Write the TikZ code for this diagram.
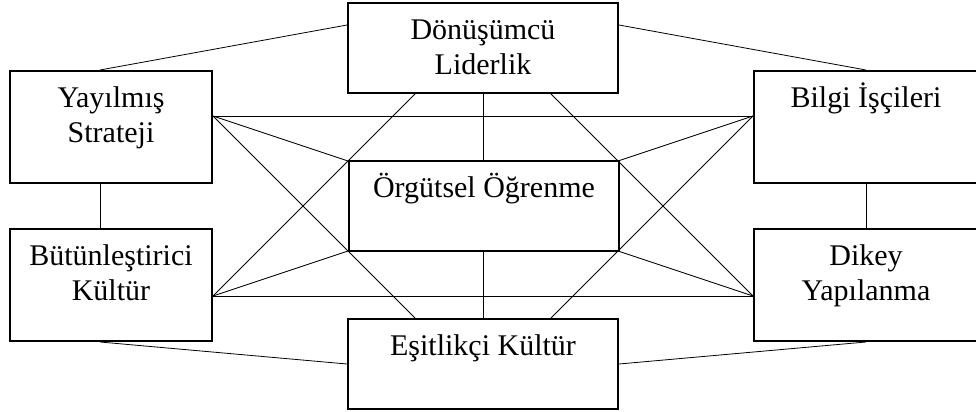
\documentclass[tikz,border=0pt]{standalone}
\usepackage{fontspec}
\setmainfont{Liberation Serif}
\usetikzlibrary{calc,backgrounds}

\begin{document}
\begin{tikzpicture}[x=0.5pt,y=-0.5pt,
        box/.style={draw,fill=white,line width=1pt,inner sep=0pt},
        txt/.style={font=\fontsize{15}{17.5}\selectfont,align=center,inner sep=0pt,anchor=north,yshift=-6.25pt},
        link/.style={line width=0.95pt}]
        \clip (0,0) rectangle (976,412);
        \node[box,minimum width=135pt,minimum height=45pt,label={[txt]north:{\strut Dönüşümcü\\\strut Liderlik}}] (don) at (483,48) {};
        \node[box,minimum width=135pt,minimum height=45pt,label={[txt]north:{\strut Örgütsel Öğrenme}}] (org) at (484,206) {};
        \node[box,minimum width=135pt,minimum height=45pt,label={[txt]north:{\strut Eşitlikçi Kültür}}] (esi) at (483,364) {};
        \node[box,minimum width=101pt,minimum height=56pt,label={[txt]north:{\strut Yayılmış\\\strut Strateji}}] (yay) at (111,127) {};
        \node[box,minimum width=101pt,minimum height=56pt,label={[txt]north:{\strut Bütünleştirici\\\strut Kültür}}] (but) at (111,285) {};
        \node[box,minimum width=112pt,minimum height=56pt,label={[txt]north:{\strut Bilgi İşçileri}}] (bil) at (866,127) {};
        \node[box,minimum width=112pt,minimum height=56pt,label={[txt]north:{\strut Dikey\\\strut Yapılanma}}] (dik) at (866,285) {};

        \coordinate (donL) at ($(don.west)+(0,-23)$);
        \coordinate (donR) at ($(don.east)+(0,-23)$);
        \coordinate (donA) at ($(don.south west)!.25!(don.south east)$);
        \coordinate (donB) at ($(don.south west)!.75!(don.south east)$);
        \coordinate (esiA) at ($(esi.north west)!.25!(esi.north east)$);
        \coordinate (esiB) at ($(esi.north west)!.75!(esi.north east)$);
        \coordinate (yayT) at ($(yay.north)+(-11,0)$);
        \coordinate (yayB) at ($(yay.south)+(-11,0)$);
        \coordinate (yayR) at ($(yay.east)+(0,-11)$);
        \coordinate (butT) at ($(but.north)+(-11,0)$);
        \coordinate (butB) at ($(but.south)+(-11,0)$);
        \coordinate (butR) at ($(but.east)+(0,11)$);
        \coordinate (bilL) at ($(bil.west)+(0,-11)$);
        \coordinate (dikL) at ($(dik.west)+(0,11)$);

        \begin{scope}[on background layer,link]
        \draw (donL) -- (yayT);
        \draw (donR) -- (bil.north);
        \draw (yayB) -- (butT);
        \draw (bil.south) -- (dik.north);
        \draw (butB) -- (esi.west);
        \draw (dik.south) -- (esi.east);
        \draw (don.south) -- (esi.north);
        \draw (yayR) -- (bilL);
        \draw (butR) -- (dikL);
        \draw (yayR) -- (dikL);
        \draw (butR) -- (bilL);
        \draw (yayR) -- (esiA);
        \draw (butR) -- (donA);
        \draw (bilL) -- (esiB);
        \draw (dikL) -- (donB);
        \end{scope}
\end{tikzpicture}
\end{document}
